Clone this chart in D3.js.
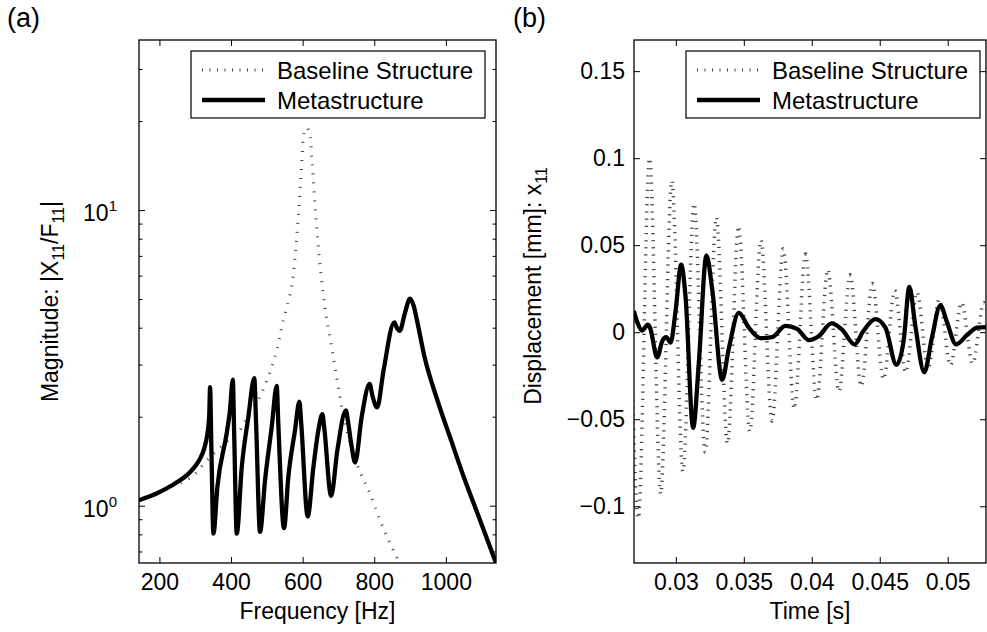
<!DOCTYPE html>
<html><head><meta charset="utf-8">
<script src="https://cdn.jsdelivr.net/npm/d3@7"></script>
<style>
body{margin:0;background:#fff}
svg{display:block}
text{font-family:"Liberation Sans",Arial,Helvetica,sans-serif;fill:#000}
</style>
</head><body>
<svg id="chart" width="987" height="632"></svg>
<script>
// ---------------- DATA ----------------
// (a) Frequency response magnitude
const metaFreq = [143,192,239,286,309,325,334,339,341.5,345,350.9,362,388,397,405,409,416,430,448.5,465,470,481,495,513.7,527.7,532,548,560,578.7,591,596,614.2,630,644,655,660,679.5,697,721,726,737,746.5,765,787,795,808,826,856,863,871,886,900,910,920,940,975,1012,1050,1090,1140];
const metaMag  = [1.044,1.10,1.18,1.30,1.41,1.56,1.75,2.0,2.52,1.6,0.805,1.16,1.76,2.10,2.67,1.7,0.805,1.35,2.0,2.70,1.9,0.816,1.22,1.85,2.54,1.9,0.84,1.25,1.80,2.25,1.9,0.92,1.35,1.80,2.04,1.85,1.08,1.54,2.10,1.95,1.58,1.40,2.0,2.58,2.35,2.15,2.87,4.17,4.0,3.9,4.5,5.02,4.75,4.2,3.2,2.3,1.7,1.25,0.93,0.64];
const baseFreq = [143,192,239,290,341,397,425,453,481,504,528,546,556,574,588,598,602,611,621,626,635,649,662,676,690,704,723,751,788,816,862,900];
const baseMag  = [1.044,1.10,1.17,1.25,1.46,1.68,1.80,2.06,2.34,2.73,3.36,4.24,4.71,6.07,9.64,14.8,17.7,19.0,17.7,14.8,10.2,6.43,4.71,3.73,2.95,2.34,1.80,1.39,1.10,0.894,0.672,0.55];
const freqTicks = [200,400,600,800,1000];
const magMajorTicks = [1,10];
const magMinorTicks = [0.7,0.8,0.9,2,3,4,5,6,7,8,9,20,30];

// (b) Time response
const metaTime = [0.02691,0.02716,0.02752,0.02794,0.02810,0.02863,0.02900,0.02929,0.02961,0.02998,0.03039,0.03071,0.03127,0.03169,0.03225,0.03267,0.03341,0.03390,0.03463,0.03537,0.03623,0.03708,0.03806,0.03892,0.03978,0.04051,0.04145,0.04223,0.04314,0.04382,0.04468,0.04542,0.04623,0.04676,0.04718,0.04762,0.04828,0.04885,0.04946,0.04995,0.05061,0.05142,0.05216,0.05289];
const metaDisp = [0.0122,0.0058,0.0010,0.0043,0.0026,-0.0145,-0.0050,-0.0028,-0.0060,0.0122,0.0388,0.0207,-0.0550,-0.0177,0.0441,0.0250,-0.0273,-0.0092,0.0111,0.0026,-0.0034,-0.0028,0.0036,0.0019,-0.0045,-0.0023,0.0051,0.0015,-0.0070,0.0010,0.0075,0.0026,-0.0188,-0.0049,0.0260,0.0036,-0.0230,-0.0028,0.0154,0.0058,-0.0070,-0.0017,0.0026,0.0030];
const baseTime = [0.02642,0.02724,0.02806,0.02888,0.02970,0.03052,0.03134,0.03216,0.03298,0.03380,0.03462,0.03544,0.03626,0.03708,0.03790,0.03872,0.03954,0.04036,0.04118,0.04200,0.04282,0.04364,0.04446,0.04528,0.04610,0.04692,0.04774,0.04856,0.04938,0.05020,0.05102,0.05184,0.05266,0.05348];
const baseDisp = [0.110,-0.107,0.100,-0.093,0.087,-0.080,0.074,-0.069,0.066,-0.064,0.061,-0.057,0.053,-0.051,0.048,-0.044,0.045,-0.039,0.036,-0.034,0.033,-0.031,0.028,-0.027,0.024,-0.023,0.023,-0.021,0.019,-0.019,0.017,-0.018,0.017,-0.016];
const timeTicks = [0.03,0.035,0.04,0.045,0.05];
const dispTicks = [-0.1,-0.05,0,0.05,0.1,0.15];

const seriesNames = ["Baseline Structure","Metastructure"];

// ---------------- LAYOUT ----------------
const svg = d3.select("#chart");
const FS = 23, LFS = 24;
const P1 = {x0:139, x1:496, y0:40, y1:563};
const P2 = {x0:634, x1:986, y0:40, y1:563};
const BASE_COLOR = "#444";

const xF = d3.scaleLinear().domain([143,1140]).range([P1.x0,P1.x1]);
const yM = d3.scaleLog().domain([0.64,37.6]).range([P1.y1,P1.y0]);
const xT = d3.scaleLinear().domain([0.02692,0.05282]).range([P2.x0,P2.x1]);
const yD = d3.scaleLinear().domain([-0.1326,0.1679]).range([P2.y1,P2.y0]);

const defs = svg.append("defs");
function clip(id,P){
  defs.append("clipPath").attr("id",id).append("rect")
    .attr("x",P.x0).attr("y",P.y0).attr("width",P.x1-P.x0).attr("height",P.y1-P.y0);
}
clip("c1",P1); clip("c2",P2);

function styleTicks(g, fs){
  g.selectAll(".domain").remove();
  g.selectAll(".tick line").attr("stroke","#000").attr("stroke-width",1);
  g.selectAll(".tick text").attr("font-size",fs).attr("font-family","'Liberation Sans',Arial,sans-serif").attr("fill","#000");
}

function frame(P, xs, ys, xticks, yticksMajor, yticksMinor, xfmt, yfmt, ypad){
  const gb = svg.append("g").attr("transform",`translate(0,${P.y1})`)
    .call(d3.axisBottom(xs).tickValues(xticks).tickSizeInner(-6).tickSizeOuter(0).tickPadding(11).tickFormat(xfmt));
  styleTicks(gb, FS);
  const gt = svg.append("g").attr("transform",`translate(0,${P.y0})`)
    .call(d3.axisTop(xs).tickValues(xticks).tickSizeInner(-6).tickSizeOuter(0).tickFormat(""));
  styleTicks(gt, FS);
  const gl = svg.append("g").attr("transform",`translate(${P.x0},0)`)
    .call(d3.axisLeft(ys).tickValues(yticksMajor).tickSizeInner(-6).tickSizeOuter(0).tickPadding(ypad).tickFormat(yfmt));
  styleTicks(gl, FS);
  const gr = svg.append("g").attr("transform",`translate(${P.x1},0)`)
    .call(d3.axisRight(ys).tickValues(yticksMajor).tickSizeInner(-6).tickSizeOuter(0).tickFormat(""));
  styleTicks(gr, FS);
  if(yticksMinor){
    const gl2 = svg.append("g").attr("transform",`translate(${P.x0},0)`)
      .call(d3.axisLeft(ys).tickValues(yticksMinor).tickSizeInner(-3.5).tickSizeOuter(0).tickFormat(""));
    styleTicks(gl2, FS);
    const gr2 = svg.append("g").attr("transform",`translate(${P.x1},0)`)
      .call(d3.axisRight(ys).tickValues(yticksMinor).tickSizeInner(-3.5).tickSizeOuter(0).tickFormat(""));
    styleTicks(gr2, FS);
  }
  svg.append("rect").attr("x",P.x0).attr("y",P.y0).attr("width",P.x1-P.x0).attr("height",P.y1-P.y0)
    .attr("fill","none").attr("stroke","#000").attr("stroke-width",1.3);
  return gl;
}

// ---------------- PANEL (a) ----------------
const lineA = d3.line().curve(d3.curveMonotoneX);
const baseA = baseFreq.map((f,i)=>[xF(f), yM(baseMag[i])]);
const metaA = metaFreq.map((f,i)=>[xF(f), yM(metaMag[i])]);
const ga = svg.append("g").attr("clip-path","url(#c1)");
ga.append("path").attr("d",lineA(baseA)).attr("fill","none").attr("stroke",BASE_COLOR)
  .attr("stroke-width",3).attr("stroke-dasharray","1 8");
ga.append("path").attr("d",lineA(metaA)).attr("fill","none").attr("stroke","#000")
  .attr("stroke-width",4.3).attr("stroke-linejoin","round");

const glA = frame(P1, xF, yM, freqTicks, magMajorTicks, magMinorTicks, d=>String(d), d=>"", 22);
glA.selectAll(".tick text").each(function(d){
  const t = d3.select(this).text(null).attr("dy","0.45em");
  t.append("tspan").text("10");
  t.append("tspan").attr("font-size",15).attr("dy",-10).text(String(Math.round(Math.log10(d))));
});

// ---------------- PANEL (b) ----------------
const lineB = d3.line().curve(d3.curveMonotoneX);
const baseB = baseTime.map((t,i)=>[xT(t), yD(baseDisp[i])]);
const metaB = metaTime.map((t,i)=>[xT(t), yD(metaDisp[i])]);
const gbp = svg.append("g").attr("clip-path","url(#c2)");
gbp.append("path").attr("d",lineB(baseB)).attr("fill","none").attr("stroke",BASE_COLOR)
  .attr("stroke-width",3.5).attr("stroke-dasharray","1.2 6");
gbp.append("path").attr("d",lineB(metaB)).attr("fill","none").attr("stroke","#000")
  .attr("stroke-width",4.3).attr("stroke-linejoin","round");

frame(P2, xT, yD, timeTicks, dispTicks, null, d=>String(d),
  d=> d===0 ? "0" : (d<0?"\u2212":"") + String(Math.abs(d)), 9);

// ---------------- LEGENDS ----------------
function legend(x, y){
  const w = 294, h = 67;
  const g = svg.append("g");
  g.append("rect").attr("x",x).attr("y",y).attr("width",w).attr("height",h)
    .attr("fill","#fff").attr("stroke","#000").attr("stroke-width",1.2);
  const rows = [y+19, y+49];
  g.append("line").attr("x1",x+11).attr("x2",x+74).attr("y1",rows[0]).attr("y2",rows[0])
    .attr("stroke",BASE_COLOR).attr("stroke-width",3).attr("stroke-dasharray","1 6.5");
  g.append("line").attr("x1",x+11).attr("x2",x+74).attr("y1",rows[1]).attr("y2",rows[1])
    .attr("stroke","#000").attr("stroke-width",4.3);
  seriesNames.forEach((s,i)=>{
    g.append("text").attr("x",x+86).attr("y",rows[i]+8.5).attr("font-size",LFS).text(s);
  });
}
legend(191, 51);
legend(686, 51);

// ---------------- LABELS ----------------
svg.append("text").attr("x",(P1.x0+P1.x1)/2).attr("y",619).attr("text-anchor","middle")
  .attr("font-size",FS).text("Frequency [Hz]");
svg.append("text").attr("x",(P2.x0+P2.x1)/2).attr("y",619).attr("text-anchor","middle")
  .attr("font-size",FS).text("Time [s]");

const ya = svg.append("text").attr("transform",`translate(58,${(P1.y0+P1.y1)/2}) rotate(-90)`)
  .attr("text-anchor","middle").attr("font-size",FS);
ya.append("tspan").text("Magnitude: |X");
ya.append("tspan").attr("font-size",16).attr("dy",6).text("11");
ya.append("tspan").attr("dy",-6).text("/F");
ya.append("tspan").attr("font-size",16).attr("dy",6).text("11");
ya.append("tspan").attr("dy",-6).text("|");

const yb = svg.append("text").attr("transform",`translate(541,286) rotate(-90)`)
  .attr("text-anchor","middle").attr("font-size",FS);
yb.append("tspan").text("Displacement [mm]: x");
yb.append("tspan").attr("font-size",16).attr("dy",6).text("11");

svg.append("text").attr("x",7).attr("y",27).attr("font-size",27).text("(a)");
svg.append("text").attr("x",513).attr("y",27).attr("font-size",27).text("(b)");
</script>
</body></html>
